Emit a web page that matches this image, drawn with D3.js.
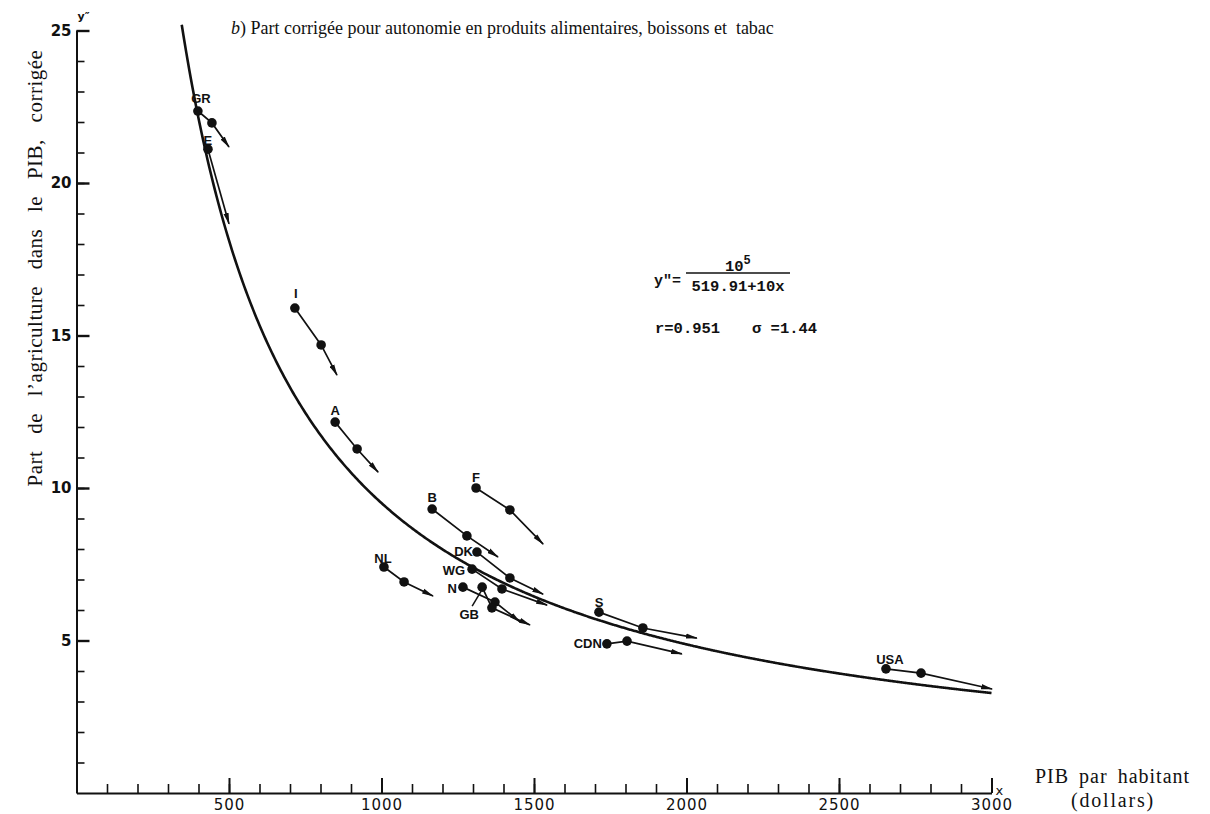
<!DOCTYPE html>
<html lang="fr">
<head>
<meta charset="utf-8">
<title>Part corrigée de l'agriculture dans le PIB</title>
<script src="https://cdn.jsdelivr.net/npm/d3@7"></script>
<style>
  html, body { margin: 0; padding: 0; background: #fff; }
  svg { display: block; }
  .serif { font-family: "Liberation Serif", "DejaVu Serif", serif; fill: #111; }
  .tick-label { font-family: "DejaVu Sans", sans-serif; fill: #111; }
  .country { font-family: "Liberation Sans", "DejaVu Sans", sans-serif; font-weight: bold; font-size: 13px; fill: #111; }
  .mono { font-family: "Liberation Mono", "DejaVu Sans Mono", monospace; font-weight: bold; fill: #111; }
</style>
</head>
<body>
<svg id="chart" width="1210" height="814"></svg>
<script>
// PIB par habitant (dollars) and corrected agricultural share of PIB (%)
// for each country: two observed years, then the projected direction (arrow tip).
const countries = ["GR", "E", "I", "A", "B", "F", "DK", "WG", "N", "GB", "NL", "S", "CDN", "USA"];
const gdpFirst   = [398, 431, 716, 848, 1166, 1310, 1313, 1297, 1267, 1330, 1008, 1713, 1739, 2654];
const shareFirst = [22.36, 21.11, 15.90, 12.16, 9.31, 10.00, 7.90, 7.34, 6.75, 6.75, 7.41, 5.93, 4.89, 4.07];
const gdpSecond   = [444, null, 802, 920, 1280, 1421, 1421, 1395, 1372, 1362, 1074, 1857, 1805, 2769];
const shareSecond = [21.97, null, 14.69, 11.28, 8.43, 9.28, 7.05, 6.69, 6.26, 6.07, 6.92, 5.41, 4.98, 3.93];
const gdpArrow   = [500, 500, 854, 989, 1382, 1530, 1530, 1543, 1454, 1487, 1169, 2034, 1985, 3002];
const shareArrow = [21.18, 18.66, 13.70, 10.52, 7.74, 8.16, 6.52, 6.16, 5.61, 5.51, 6.46, 5.08, 4.56, 3.41];

// Axis ticks
const xMajorTicks = [500, 1000, 1500, 2000, 2500, 3000];
const xMinorTicks = d3.range(100, 3001, 100);
const yMajorTicks = [5, 10, 15, 20, 25];
const yMinorTicks = d3.range(1, 26, 1);

// Fitted curve  y* = 10^5 / (519.91 + 10x)
const fitA = 1e5, fitB = 519.91, fitC = 10;
const fitRange = [345, 3000];
const fitted = x => fitA / (fitB + fitC * x);

const svg = d3.select("#chart");
const x = d3.scaleLinear().domain([0, 3000]).range([76.5, 991.5]);
const y = d3.scaleLinear().domain([0, 25]).range([793, 30.5]);

// Label placement around each country's first point (pixels)
const labelPlacement = {
  GR:  { dx: 3,   dy: -8,  anchor: "middle" },
  E:   { dx: 0,   dy: -4,  anchor: "middle" },
  I:   { dx: 1,   dy: -10, anchor: "middle" },
  A:   { dx: 0,   dy: -7,  anchor: "middle" },
  B:   { dx: 0,   dy: -7,  anchor: "middle" },
  F:   { dx: 0,   dy: -6,  anchor: "middle" },
  DK:  { dx: -4,  dy: 4,   anchor: "end" },
  WG:  { dx: -7,  dy: 6,   anchor: "end" },
  N:   { dx: -6,  dy: 6,   anchor: "end" },
  GB:  { dx: -13, dy: 32,  anchor: "middle" },
  NL:  { dx: -1,  dy: -4,  anchor: "middle" },
  S:   { dx: 0,   dy: -5,  anchor: "middle" },
  CDN: { dx: -5,  dy: 4,   anchor: "end" },
  USA: { dx: 4,   dy: -5,  anchor: "middle" }
};

// Arrowhead
svg.append("defs").append("marker")
  .attr("id", "arrow")
  .attr("markerUnits", "userSpaceOnUse")
  .attr("viewBox", "0 -3 12 6")
  .attr("refX", 11).attr("refY", 0)
  .attr("markerWidth", 12).attr("markerHeight", 6)
  .attr("orient", "auto")
  .append("path")
  .attr("d", "M0,-2.6L12,0L0,2.6Z")
  .attr("fill", "#111");

// ---- Axes ----
const axisStyle = g => {
  g.select(".domain").attr("stroke", "#111").attr("stroke-width", 2);
  g.selectAll(".tick line").attr("stroke", "#111").attr("stroke-width", 1.6);
};

svg.append("g")
  .attr("transform", `translate(${x(0)},0)`)
  .call(d3.axisLeft(y).tickValues(yMinorTicks).tickSize(-8).tickSizeOuter(0).tickFormat(""))
  .call(axisStyle);
const yMajor = svg.append("g")
  .attr("transform", `translate(${x(0)},0)`)
  .call(d3.axisLeft(y).tickValues(yMajorTicks).tickSize(-13).tickSizeOuter(0).tickPadding(5).tickFormat(d3.format("d")))
  .call(axisStyle);
yMajor.selectAll(".tick line").attr("stroke-width", 2.4);
yMajor.selectAll(".tick text")
  .attr("class", "tick-label")
  .attr("font-size", 15).attr("font-weight", "bold").attr("font-family", null);

svg.append("g")
  .attr("transform", `translate(0,${y(0)})`)
  .call(d3.axisBottom(x).tickValues(xMinorTicks).tickSize(-9).tickSizeOuter(0).tickFormat(""))
  .call(axisStyle);
const xMajor = svg.append("g")
  .attr("transform", `translate(0,${y(0)})`)
  .call(d3.axisBottom(x).tickValues(xMajorTicks).tickSize(-15).tickSizeOuter(0).tickPadding(6).tickFormat(d3.format("d")))
  .call(axisStyle);
xMajor.selectAll(".tick line").attr("stroke-width", 2);
xMajor.selectAll(".tick text")
  .attr("class", "tick-label")
  .attr("font-size", 15).attr("letter-spacing", 1).attr("font-family", null);
xMajor.select(".domain").remove();
yMajor.select(".domain").remove();

// Axis end markers
svg.append("text").attr("class", "tick-label")
  .attr("x", x(0) + 1).attr("y", y(25) - 11)
  .attr("font-size", 11).attr("font-weight", "bold").text("y\u2033");
svg.append("text").attr("class", "tick-label")
  .attr("x", x(3000) + 4).attr("y", y(0) + 2)
  .attr("font-size", 13).text("x");

// ---- Fitted curve ----
const curvePts = d3.range(fitRange[0], fitRange[1] + 1, 5).map(v => [v, fitted(v)]);
svg.append("path")
  .datum(curvePts)
  .attr("fill", "none")
  .attr("stroke", "#111")
  .attr("stroke-width", 2.6)
  .attr("d", d3.line().x(d => x(d[0])).y(d => y(d[1])).curve(d3.curveBasis));

// ---- Country paths ----
const rows = countries.map((c, i) => ({
  name: c,
  p1: [gdpFirst[i], shareFirst[i]],
  p2: gdpSecond[i] == null ? null : [gdpSecond[i], shareSecond[i]],
  tip: [gdpArrow[i], shareArrow[i]]
}));

const g = svg.append("g");
rows.forEach(r => {
  const pts = [r.p1].concat(r.p2 ? [r.p2] : []).concat([r.tip]);
  g.append("path")
    .attr("fill", "none").attr("stroke", "#111").attr("stroke-width", 1.7)
    .attr("marker-end", "url(#arrow)")
    .attr("d", d3.line().x(d => x(d[0])).y(d => y(d[1]))(pts));
  [r.p1, r.p2].filter(Boolean).forEach(p => {
    g.append("circle").attr("cx", x(p[0])).attr("cy", y(p[1])).attr("r", 4.8).attr("fill", "#111");
  });
  const lp = labelPlacement[r.name];
  g.append("text").attr("class", "country")
    .attr("x", x(r.p1[0]) + lp.dx).attr("y", y(r.p1[1]) + lp.dy)
    .attr("text-anchor", lp.anchor).text(r.name);
});

// GB leader line from its label to the first point
const gb = rows.find(r => r.name === "GB");
g.append("line")
  .attr("x1", x(gb.p1[0]) - 10).attr("y1", y(gb.p1[1]) + 19)
  .attr("x2", x(gb.p1[0]) - 1).attr("y2", y(gb.p1[1]) + 4)
  .attr("stroke", "#111").attr("stroke-width", 1.5);

// ---- Titles ----
const title = svg.append("text").attr("class", "serif")
  .attr("x", 231).attr("y", 34).attr("font-size", 18);
title.append("tspan").attr("font-style", "italic").text("b");
title.append("tspan").text(") Part corrigée pour autonomie en produits alimentaires, boissons et\u00a0 tabac");

svg.append("text").attr("class", "serif")
  .attr("transform", "translate(42,268) rotate(-90)")
  .attr("text-anchor", "middle").attr("font-size", 21)
  .attr("letter-spacing", 0.5).attr("word-spacing", 11)
  .text("Part de l\u2019agriculture dans le PIB, corrigée");

svg.append("text").attr("class", "serif")
  .attr("x", 1035).attr("y", 783).attr("font-size", 20)
  .attr("letter-spacing", 1).attr("word-spacing", 4)
  .text("PIB par habitant");
svg.append("text").attr("class", "serif")
  .attr("x", 1113).attr("y", 807).attr("font-size", 20)
  .attr("letter-spacing", 1.8).attr("text-anchor", "middle")
  .text("(dollars)");

// ---- Equation and fit statistics ----
const eq = svg.append("g");
eq.append("text").attr("class", "mono").attr("x", 654).attr("y", 285).attr("font-size", 15).text("y\u2033=");
eq.append("line").attr("x1", 686).attr("x2", 790).attr("y1", 273).attr("y2", 273)
  .attr("stroke", "#111").attr("stroke-width", 1.4);
const num = eq.append("text").attr("class", "mono").attr("x", 725).attr("y", 271)
  .attr("font-size", 15.5);
num.append("tspan").text("10");
num.append("tspan").attr("dy", -7).attr("font-size", 12).text("5");
eq.append("text").attr("class", "mono").attr("x", 738).attr("y", 291)
  .attr("text-anchor", "middle").attr("font-size", 15.5).text("519.91+10x");
eq.append("text").attr("class", "mono").attr("x", 655).attr("y", 333)
  .attr("font-size", 15.5).text("r=0.951");
eq.append("text").attr("class", "mono").attr("x", 752).attr("y", 333)
  .attr("font-size", 15.5).text("\u03c3 =1.44");
</script>
</body>
</html>
